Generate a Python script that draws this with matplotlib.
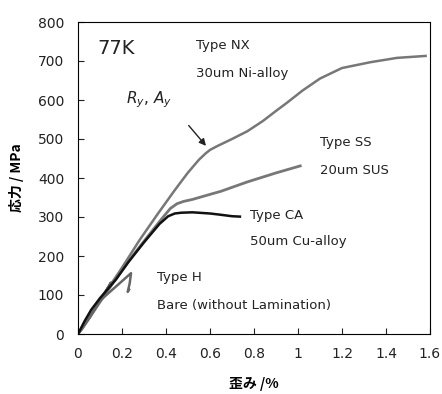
import matplotlib
matplotlib.use("Agg")
import matplotlib.pyplot as plt

plt.rcParams['font.family'] = ['DejaVu Sans', 'Noto Sans CJK JP']

# Data (strain %, stress MPa)
nx_strain = [0, 0.02, 0.05, 0.1, 0.2, 0.28, 0.36, 0.44, 0.5, 0.55, 0.58, 0.6, 0.63, 0.7, 0.77, 0.84,
             0.9, 0.95, 1.02, 1.1, 1.2, 1.33, 1.45, 1.58]
nx_stress = [0, 14, 40, 86, 170, 241, 306, 369, 414, 447, 463, 472, 481, 500, 520, 546,
             572, 593, 624, 655, 682, 697, 708, 713]

ss_strain = [0, 0.05, 0.1, 0.2, 0.3, 0.38, 0.42, 0.45, 0.48, 0.52, 0.6, 0.65, 0.77, 0.9, 1.01]
ss_stress = [0, 40, 82, 165, 238, 295, 322, 334, 340, 345, 358, 366, 390, 413, 431]

ca_strain = [0, 0.03, 0.06, 0.1, 0.173, 0.23, 0.3, 0.37, 0.41, 0.44, 0.47, 0.52, 0.6, 0.645, 0.7, 0.736]
ca_stress = [0, 33, 62, 92, 140, 185, 235, 282, 302, 309, 311, 312, 309, 306, 302, 301]

h_strain = [0, 0.05, 0.1, 0.15, 0.105, 0.241, 0.235, 0.226, 0.232]
h_stress = [0, 40, 85, 132, 88, 156, 130, 108, 114]

fig = plt.figure(figsize=(4.42, 3.94), dpi=100)
ax = fig.add_axes([78/442, 1 - 334/394, 352/442, 312/394])

ax.plot(nx_strain, nx_stress, color='#777777', lw=1.8, solid_joinstyle='round')
ax.plot(ss_strain, ss_stress, color='#777777', lw=2.0, solid_joinstyle='round')
ax.plot(h_strain, h_stress, color='#666666', lw=1.8, solid_joinstyle='round')
ax.plot(ca_strain, ca_stress, color='#111111', lw=1.8, solid_joinstyle='round')

ax.set_xlim(0, 1.6)
ax.set_ylim(0, 800)
ax.set_xticks([0, 0.2, 0.4, 0.6, 0.8, 1.0, 1.2, 1.4, 1.6])
ax.set_xticklabels(['0', '0.2', '0.4', '0.6', '0.8', '1', '1.2', '1.4', '1.6'])
ax.set_yticks(range(0, 801, 100))
ax.tick_params(direction='in', length=4, labelsize=10, colors='#222222', pad=9)
ax.tick_params(axis='y', pad=10)

ax.set_xlabel('歪み /%', fontsize=10, fontweight='bold', family=['Noto Sans CJK JP', 'DejaVu Sans'], labelpad=12)
ax.set_ylabel('応力 / MPa', fontsize=10, fontweight='bold', family=['Noto Sans CJK JP', 'DejaVu Sans'], labelpad=10)

fs = 9.5
ax.text(0.086, 733, '77K', fontsize=14, va='center', ha='left', color='#222222')
ax.text(0.536, 741, 'Type NX', fontsize=fs, va='center', ha='left', color='#222222')
ax.text(0.536, 669, '30um Ni-alloy', fontsize=fs, va='center', ha='left', color='#222222')
ax.text(0.22, 600, r'$\mathit{R_y}$, $\mathit{A_y}$', fontsize=11, va='center', ha='left', color='#222222')
ax.annotate('', xy=(0.59, 477), xytext=(0.495, 540),
            arrowprops=dict(arrowstyle='-|>', color='#222222', lw=1, mutation_scale=10))
ax.text(1.1, 492, 'Type SS', fontsize=fs, va='center', ha='left', color='#222222')
ax.text(1.1, 418, '20um SUS', fontsize=fs, va='center', ha='left', color='#222222')
ax.text(0.78, 305, 'Type CA', fontsize=fs, va='center', ha='left', color='#222222')
ax.text(0.78, 236, '50um Cu-alloy', fontsize=fs, va='center', ha='left', color='#222222')
ax.text(0.36, 146, 'Type H', fontsize=fs, va='center', ha='left', color='#222222')
ax.text(0.36, 74, 'Bare (without Lamination)', fontsize=fs, va='center', ha='left', color='#222222')

fig.savefig('out.png', dpi=100)
